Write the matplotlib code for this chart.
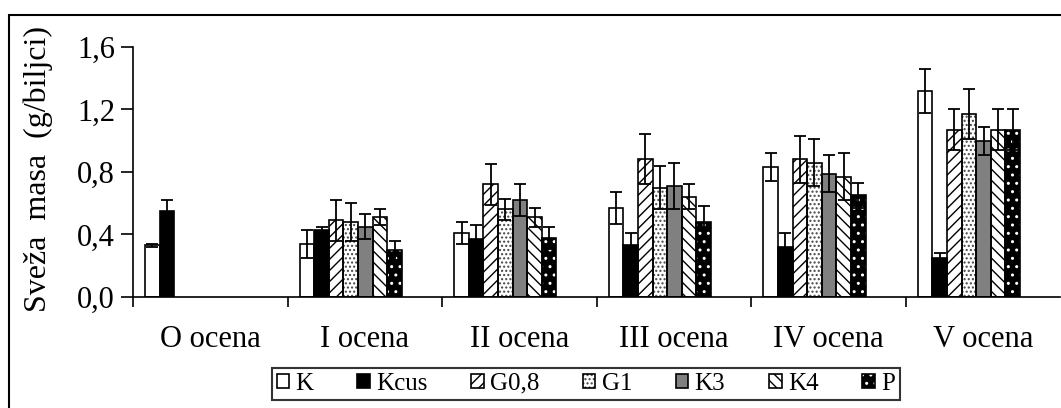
import matplotlib
matplotlib.use("Agg")
import matplotlib.pyplot as plt
import matplotlib.patches as patches
import numpy as np

plt.rcParams["font.family"] = ["Liberation Serif", "DejaVu Serif"]
plt.rcParams["hatch.linewidth"] = 1.0

categories = ["O ocena", "I ocena", "II ocena", "III ocena", "IV ocena", "V ocena"]
series = ["K", "Kcus", "G0,8", "G1", "K3", "K4", "P"]

# mean values, one list per treatment (None = not measured)
K_vals = [0.33, 0.34, 0.41, 0.57, 0.83, 1.32]
Kcus_vals = [0.55, 0.43, 0.37, 0.33, 0.32, 0.25]
G08_vals = [None, 0.49, 0.72, 0.88, 0.88, 1.07]
G1_vals = [None, 0.48, 0.56, 0.70, 0.86, 1.17]
K3_vals = [None, 0.45, 0.62, 0.71, 0.79, 1.00]
K4_vals = [None, 0.51, 0.51, 0.64, 0.77, 1.07]
P_vals = [None, 0.30, 0.38, 0.48, 0.65, 1.07]

# standard errors
K_err = [0.01, 0.09, 0.07, 0.10, 0.09, 0.14]
Kcus_err = [0.07, 0.02, 0.09, 0.08, 0.09, 0.03]
G08_err = [None, 0.13, 0.13, 0.16, 0.15, 0.13]
G1_err = [None, 0.12, 0.07, 0.14, 0.15, 0.16]
K3_err = [None, 0.08, 0.10, 0.15, 0.12, 0.09]
K4_err = [None, 0.05, 0.06, 0.08, 0.15, 0.13]
P_err = [None, 0.06, 0.07, 0.10, 0.08, 0.13]

values = [K_vals, Kcus_vals, G08_vals, G1_vals, K3_vals, K4_vals, P_vals]
errors = [K_err, Kcus_err, G08_err, G1_err, K3_err, K4_err, P_err]

# (face, hatch colour, hatch) for each series
styles = [
    ("white", "black", None),
    ("black", "black", None),
    ("white", "black", "///"),
    ("white", "#444444", "...."),
    ("#808080", "black", None),
    ("white", "black", "\\\\\\"),
    ("black", "white", ".."),
]

fig = plt.figure(figsize=(10.61, 4.08), dpi=100)
ax = fig.add_axes([0.1254, 0.272, 0.874, 0.613])

# outer chart frame (runs off right and bottom edges as in the source)
fig.patches.append(patches.Rectangle((9 / 1061, -0.05), 1.2, 1 - 15 / 408 + 0.05,
                                     transform=fig.transFigure, fill=False,
                                     edgecolor="black", linewidth=1.5))

bw = 0.0945
off = 0.078
handles = []
for j, (vals, errs) in enumerate(zip(values, errors)):
    face, hcol, hatch = styles[j]
    xs = [i + off + j * bw for i, v in enumerate(vals) if v is not None]
    ys = [v for v in vals if v is not None]
    es = [e for e in errs if e is not None]
    fill = ax.bar(xs, ys, width=bw, align="edge", color=face, edgecolor=hcol,
                  hatch=hatch, linewidth=0, zorder=2)
    outline = ax.bar(xs, ys, width=bw, align="edge", facecolor="none",
                     edgecolor="black", linewidth=1.2, zorder=3)
    ax.errorbar(np.array(xs) + bw / 2, ys, yerr=es, fmt="none", ecolor="black",
                elinewidth=1.3, capsize=4.3, capthick=1.3, zorder=4)
    handles.append((fill[0], outline[0]))

ax.set_xlim(0, 6)
ax.set_ylim(0, 1.6)
ax.set_yticks([0, 0.4, 0.8, 1.2, 1.6])
ax.set_yticklabels(["0,0", "0,4", "0,8", "1,2", "1,6"], fontsize=22)
ax.set_xticks(range(6))
ax.set_xticklabels([])
ax.set_xticks(np.arange(6) + 0.5, minor=True)
ax.set_xticklabels(categories, minor=True, fontsize=22)
ax.tick_params(axis="x", which="minor", length=0, pad=20)
ax.tick_params(axis="x", which="major", length=7, width=1.2, direction="out")
ax.tick_params(axis="y", length=9, width=1.2, direction="out", pad=4)
for s in ["top", "right"]:
    ax.spines[s].set_visible(False)
for s in ["left", "bottom"]:
    ax.spines[s].set_linewidth(1.2)

ax.set_ylabel("Sveža  masa  (g/biljci)", fontsize=23)
ax.yaxis.set_label_coords(-0.086, 0.51)

leg = fig.legend(handles, series, loc="center", bbox_to_anchor=(0.552, 0.060),
                 ncol=7, fontsize=18, frameon=True, fancybox=False,
                 handlelength=0.5, handleheight=0.5, handletextpad=0.25,
                 columnspacing=1.75, borderpad=0.2)
leg.get_frame().set_edgecolor("black")
leg.get_frame().set_linewidth(1.5)

fig.savefig("out.png", dpi=100, facecolor="white")
